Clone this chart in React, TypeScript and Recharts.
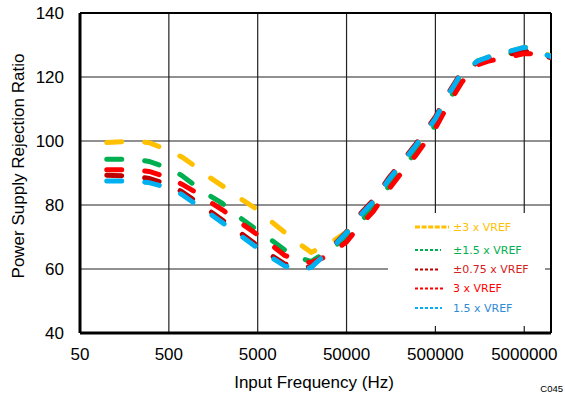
import React from 'react';
import { LineChart, Line, XAxis, YAxis, CartesianGrid, ReferenceLine, Legend, Label } from 'recharts';

// Input frequency (Hz)
const freqs = [100, 200, 300, 500, 700, 1000, 1500, 2000, 3000, 5000, 7000, 10000, 15000, 20000, 30000, 50000, 70000, 100000, 150000, 200000, 300000, 500000, 700000, 1000000, 1500000, 2000000, 3000000, 5000000, 7000000, 10000000];

// PSRR (dB) per reference configuration
const psrrPm3 = [99.5, 100, 99.5, 97, 95, 92, 88.3, 86, 82.5, 78.5, 75, 71.5, 67.7, 65.2, 67.5, 71.5, 76.3, 80.8, 87.8, 92, 98.3, 106.8, 114.3, 121.3, 125, 126.2, 127.6, 129.3, 128.5, 126.5];
const psrrPm15 = [94.3, 94.3, 93.6, 91.5, 89.2, 86, 82.6, 80.5, 76.5, 72, 69.2, 66, 63.5, 62.3, 65.5, 69.8, 74.5, 79, 86, 90.3, 96.5, 105, 112.5, 119.8, 125, 126, 127, 128.5, 128, 126.3];
const psrrPm075 = [89.3, 89, 88.3, 86.3, 84.2, 81.2, 77.8, 75.3, 71.8, 67.3, 64.4, 61.6, 60.3, 60.8, 65.3, 71.6, 77, 81.5, 88.5, 92.8, 99, 107.5, 115, 121.8, 124.5, 125.5, 126.8, 128, 127.5, 126];
const psrr3 = [91, 91, 90.5, 88.5, 86.5, 84, 80.7, 78.5, 75, 70.7, 67.7, 64.3, 62.5, 62, 64, 68.5, 73.5, 78, 85, 89.5, 95.5, 104, 111.5, 118.5, 123.8, 125, 126, 127.3, 127.2, 126];
const psrr15 = [87.5, 87.5, 87, 85.3, 83.3, 80.3, 77, 74.5, 71, 66.5, 63.7, 61, 59.6, 60.5, 65, 71.3, 76.5, 81, 88, 92.3, 98.5, 107, 114.5, 121.5, 125, 126.3, 127.6, 129.3, 128.3, 126.3];

const xTicks = [50, 500, 5000, 50000, 500000, 5000000];
const yTicks = [40, 60, 80, 100, 120, 140];

const seriesNames = ['±3 x VREF', '±1.5 x VREF', '±0.75 x VREF', '3 x VREF', '1.5 x VREF'];
const seriesColors = ['#FFC000', '#00B050', '#C00000', '#FF0000', '#00B0F0'];
const legendTextColors = ['#FFC000', '#00B050', '#D42020', '#FF0000', '#2F8BD6'];
const seriesValues = [psrrPm3, psrrPm15, psrrPm075, psrr3, psrr15];
const keys = ['pm3', 'pm15', 'pm075', 'v3', 'v15'];

const data = freqs.map((f, i) => {
  const row: any = { f };
  keys.forEach((k, s) => { row[k] = seriesValues[s][i]; });
  return row;
});

const AXIS_FONT = '"Liberation Sans", Arial, sans-serif';
const LEGEND_FONT = '"DejaVu Sans", Verdana, sans-serif';

const legendRows = [
  { y: 14, x2: 61, w: 3, dash: '5 1.6' },
  { y: 37, x2: 53, w: 2, dash: '3 2' },
  { y: 56.5, x2: 52, w: 2, dash: '3 2' },
  { y: 75.5, x2: 57, w: 2, dash: '3 2' },
  { y: 95, x2: 54, w: 2, dash: '3 2' },
];

const LegendContent = () => (
  <svg width={157} height={113} style={{ display: 'block' }}>
    {legendRows.map((r, i) => (
      <g key={i}>
        <line x1={27} x2={r.x2} y1={r.y} y2={r.y} stroke={seriesColors[i]} strokeWidth={r.w} strokeDasharray={r.dash} />
        <text x={65} y={r.y} dominantBaseline="central" fontSize={11} fontFamily={LEGEND_FONT} fill={legendTextColors[i]}>
          {seriesNames[i]}
        </text>
      </g>
    ))}
  </svg>
);

export default function App() {
  return (
    <div style={{ position: 'absolute', left: 0, top: 0, width: 565, height: 396, background: '#fff' }}>
      <LineChart width={565} height={396} data={data} margin={{ top: 13, right: 14, left: 0, bottom: 0 }}>
        <CartesianGrid stroke="#222" strokeWidth={1.2} />
        <XAxis
          dataKey="f"
          type="number"
          scale="log"
          domain={[50, 10000000]}
          allowDataOverflow
          ticks={xTicks}
          interval={0}
          height={63}
          tickLine={false}
          tickMargin={9}
          axisLine={{ stroke: '#000', strokeWidth: 3 }}
          tick={{ fontSize: 17, fill: '#000', fontFamily: AXIS_FONT }}
        >
          <Label
            content={() => (
              <g>
                <text x={314} y={382} textAnchor="middle" dominantBaseline="central" fontSize={17} fontFamily={AXIS_FONT} fill="#000">
                  Input Frequency (Hz)
                </text>
                <text x={563} y={388} textAnchor="end" dominantBaseline="central" fontSize={9.5} fontFamily={AXIS_FONT} fill="#000">
                  C045
                </text>
              </g>
            )}
          />
        </XAxis>
        <YAxis
          type="number"
          domain={[40, 140]}
          ticks={yTicks}
          interval={0}
          width={80}
          tickLine={false}
          tickMargin={10}
          axisLine={{ stroke: '#000', strokeWidth: 3 }}
          tick={{ fontSize: 17, fill: '#000', fontFamily: AXIS_FONT }}
        >
          <Label
            content={() => (
              <text x={18} y={166} transform="rotate(-90 18 166)" textAnchor="middle" dominantBaseline="central" fontSize={17} fontFamily={AXIS_FONT} fill="#000">
                Power Supply Rejection Ratio
              </text>
            )}
          />
        </YAxis>
        <ReferenceLine y={140} stroke="#000" strokeWidth={2} />
        <ReferenceLine x={10000000} stroke="#000" strokeWidth={2} />
        {keys.map((k, i) => (
          <Line
            key={k}
            dataKey={k}
            name={seriesNames[i]}
            type="linear"
            stroke={seriesColors[i]}
            strokeWidth={5}
            strokeDasharray="15 23"
            strokeLinecap="round"
            dot={false}
            activeDot={false}
            isAnimationActive={false}
          />
        ))}
        <Legend
          layout="vertical"
          align="center"
          verticalAlign="middle"
          content={<LegendContent />}
          wrapperStyle={{ position: 'absolute', left: 388, top: 213, width: 157, height: 113, background: '#fff', margin: 0, padding: 0 }}
        />
      </LineChart>
    </div>
  );
}
